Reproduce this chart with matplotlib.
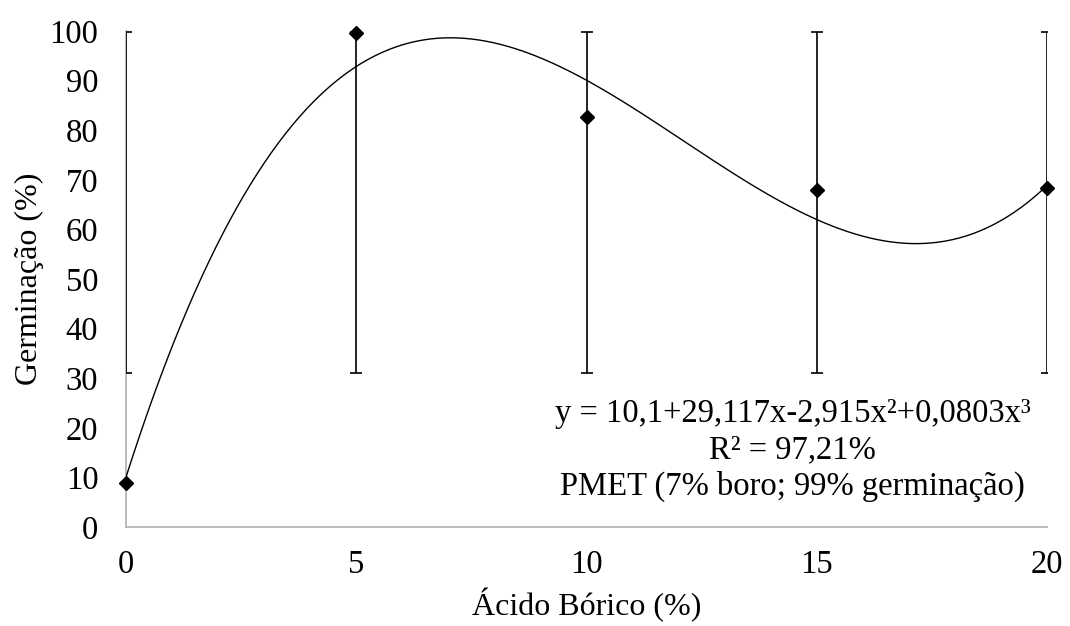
import matplotlib.pyplot as plt
import numpy as np

# boric acid concentration (%) and mean germination (%)
acido = [0, 5, 10, 15, 20]
germinacao = [8.8, 99.5, 82.6, 68.0, 68.4]
# error bar ends (absolute values)
erro_inf = [31.0, 31.0, 31.0, 31.0, 31.0]
erro_sup = [99.8, 99.8, 99.8, 99.8, 99.8]

# cubic trend line coefficients as printed on the chart (b0, b1, b2, b3)
coefs = [10.1, 29.117, -2.915, 0.0803]

plt.rcParams['font.family'] = ['Liberation Serif', 'DejaVu Serif']
FS = 23.5

fig = plt.figure(figsize=(10.7, 6.26), dpi=100)
ax = fig.add_axes([0.1178, 0.158, 0.8607, 0.7925])

# trend line
xs = np.linspace(0, 20, 400)
ys = np.polyval(coefs[::-1], xs)
ax.plot(xs, ys, color='black', lw=1.0, zorder=2)

# error bars (the bar at x=0 does not include its point, so draw them by hand)
ax.vlines(acido, erro_inf, erro_sup, color='black', lw=1.2, zorder=3)
ax.plot(acido, erro_inf, ls='none', marker='_', ms=9, mew=1.2, color='black', zorder=3)
ax.plot(acido, erro_sup, ls='none', marker='_', ms=9, mew=1.2, color='black', zorder=3)

# points
ax.plot(acido, germinacao, ls='none', marker='D', ms=7, color='black', zorder=4, clip_on=False)

ax.set_xlim(0, 20)
ax.set_ylim(0, 100)
ax.set_xticks([0, 5, 10, 15, 20])
ax.set_yticks(range(0, 101, 10))
ax.tick_params(length=0, labelsize=FS)
ax.tick_params(axis='y', pad=20)
ax.tick_params(axis='x', pad=16)

for s in ['top', 'right']:
    ax.spines[s].set_visible(False)
for s in ['left', 'bottom']:
    ax.spines[s].set_color('#b0b0b0')
    ax.spines[s].set_linewidth(1.2)
    ax.spines[s].set_zorder(1)

ax.set_xlabel('Ácido Bórico (%)', fontsize=23, labelpad=6)
ax.set_ylabel('Germinação (%)', fontsize=23, labelpad=4)

ax.text(14.48, 15.5, 'y = 10,1+29,117x-2,915x²+0,0803x³\nR² = 97,21%\nPMET (7% boro; 99% germinação)',
        ha='center', va='center', fontsize=FS, linespacing=1.25)

plt.savefig('out.png', dpi=100)
